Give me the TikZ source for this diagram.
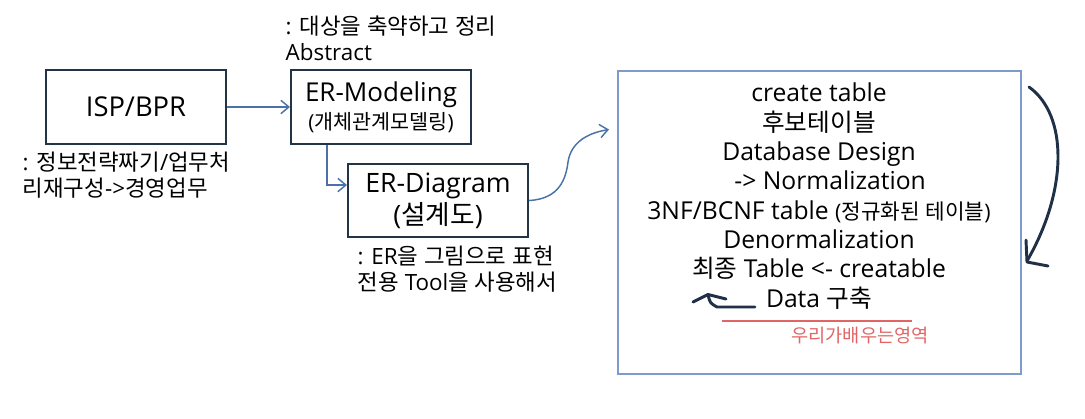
\documentclass[tikz,border=0pt]{standalone}
\usepackage{fontspec}
\setmainfont{Open Sans}
\newfontfamily\krfont{Noto Sans CJK KR}
% Hangul syllables get the CJK face, the rest stays in Open Sans
\newXeTeXintercharclass\hangulclass
\count255="AC00
\loop
  \XeTeXcharclass\count255=\hangulclass
\ifnum\count255<"D7A3
  \advance\count255 by 1
\repeat
\XeTeXinterchartokenstate=1
\XeTeXinterchartoks 0 \hangulclass = {\krfont}
\XeTeXinterchartoks 4095 \hangulclass = {\krfont}
\XeTeXinterchartoks \hangulclass 0 = {\rmfamily}
\XeTeXinterchartoks \hangulclass 4095 = {\rmfamily}
\usetikzlibrary{arrows.meta,positioning}
\definecolor{cnavy}{HTML}{243447}
\definecolor{cblue}{HTML}{4A72A8}
\definecolor{clight}{HTML}{7F9BCB}
\definecolor{cink}{HTML}{1F3047}
\definecolor{cred}{HTML}{E06666}

\begin{document}
\begin{tikzpicture}[x=0.75pt,y=-0.75pt,line width=1.1pt,
  box/.style={draw=cnavy,line width=1.5pt,minimum width=135pt,minimum height=55.5pt,inner sep=0pt,align=center},
  conn/.style={cblue,line width=1.1pt,-{Straight Barb[length=6pt,width=10pt]}},
  note/.style={inner sep=0pt,align=left,anchor=west,font=\fontsize{16.8}{19.5}\selectfont},
  hand/.style={cink,line width=2.2pt,line cap=round,line join=round}]
  \useasboundingbox (0,0) rectangle (1085,418);
  % modelling chain
  \node[box,font=\fontsize{20.5}{24}\selectfont] (isp) at (136,107) {ISP/BPR};
  \node[box,font=\fontsize{19.5}{21}\selectfont] (erm) at (381,107)
    {ER-Modeling\\{\fontsize{15.5}{21}\selectfont(개체관계모델링)}};
  \node[box,minimum height=54.75pt,font=\fontsize{20}{24}\selectfont] (erd) at (438,200.5)
    {ER-Diagram\\(설계도)};
  \draw[conn] (isp) -- (erm);
  \draw[conn] ([xshift=27.75pt]erm.south west) |- ([yshift=11.6pt]erd.west);
  % notes
  \node[note] (absnote) at (285,38.5) {: 대상을 축약하고 정리\\Abstract};
  \node[note] (ispnote) at (22,175) {: 정보전략짜기/업무처\\리재구성->경영업무};
  \node[note] (erdnote) at (357,269.5) {: ER을 그림으로 표현\\전용 Tool을 사용해서};
  % design area
  \node[draw=clight,line width=1.1pt,minimum width=302.25pt,minimum height=227.25pt] (area) at (819.5,222.5) {};
  \coordinate (toarea) at (609,129.5);
  \draw[conn] (erd.east) .. controls (560,199) and (566,178) .. (568,162)
    .. controls (571,142) and (588,133) .. (toarea);
  \node[inner sep=0pt,align=center,font=\fontsize{18.5}{22}\selectfont] (steps) at (819,196)
    {create table\\후보테이블\\Database Design\\\hspace*{0.9em}-> Normalization\\
     3NF/BCNF table {\fontsize{16}{22}\selectfont(정규화된 테이블)}\\Denormalization\\
     최종 Table <- creatable\\Data 구축};
  \draw[cred,line width=0.9pt] (722,321) -- (912,321);
  \node[inner sep=0pt,text=cred,font=\fontsize{14}{16}\selectfont] (ours) at (860,336) {우리가배우는영역};
  % pen marks
  \draw[hand] (1029,87) .. controls (1068,115) and (1068,190) .. (1027,261);
  \draw[hand] (1026,240) -- (1027,262) -- (1048,266);
  \draw[hand] (693,302) -- (708,294.5) -- (726,299);
  \draw[hand] (708,294.5) .. controls (710,303) .. (717,307) -- (755,307);
\end{tikzpicture}
\end{document}
